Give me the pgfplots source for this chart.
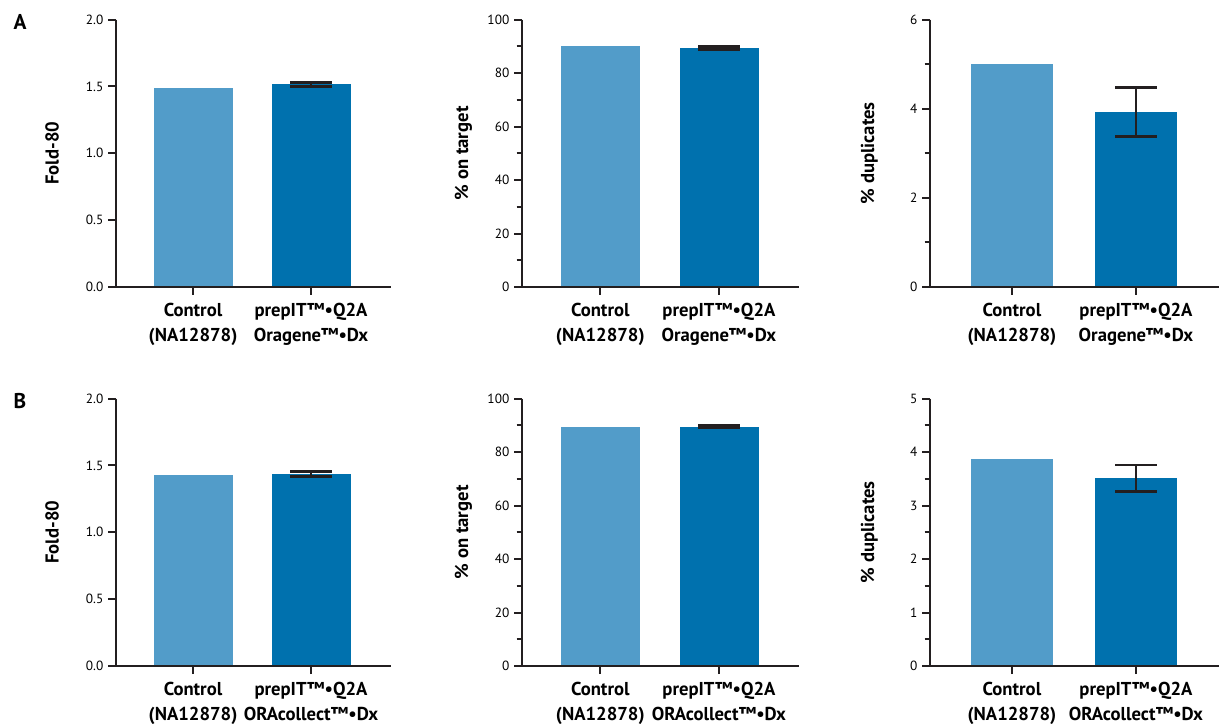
\documentclass[border=0pt]{standalone}
\usepackage{fontspec}
\setmainfont{PT Sans}
\usepackage{pgfplots}
\pgfplotsset{compat=1.18}

\definecolor{axc}{HTML}{231F20}
\definecolor{ctrl}{HTML}{529CC9}
\definecolor{prep}{HTML}{0071AE}

% bold two-line category label
\newcommand\xl[2]{{\bfseries\fontsize{14}{18.5}\selectfont\begin{tabular}{@{}c@{}}#1\\#2\end{tabular}}}

% axis frame: left and bottom lines, category ticks, major y ticks (given as fractions of the height)
\newcommand\axframe[1]{%
  \draw[axc, line width=1.8pt] (rel axis cs:0,1) -- (rel axis cs:0,0) -- (rel axis cs:1,0);
  \draw[axc, line width=1.5pt] (axis cs:0,0) -- ++(0pt,-6pt) (axis cs:1,0) -- ++(0pt,-6pt);
  \pgfplotsinvokeforeach{#1}{\draw[axc, line width=1.5pt] (rel axis cs:0,##1) -- ++(-6pt,0pt);}
}

\pgfplotsset{
  panel/.style={
    scale only axis, anchor=south west, height=200.6pt,
    axis lines=left,
    axis line style={-, draw=axc, line width=1.8pt},
    every tick/.append style={draw=axc, line width=1.5pt},
    tick align=outside,
    major tick length=6pt, minor tick length=4pt,
    xtick={0,1}, ymin=0, clip=false,
    ylabel style={font=\bfseries\fontsize{14}{17}\selectfont,
      at={(axis description cs:0,0.5)}, anchor=center},
    /pgf/number format/assume math mode=true,
  },
  labA/.style={xticklabels={{\xl{Control}{(NA12878)}}, {\xl{prepIT™•Q2A}{Oragene™•Dx}}}},
  labB/.style={xticklabels={{\xl{Control}{(NA12878)}}, {\xl{prepIT™•Q2A}{ORAcollect™•Dx}}}},
  cbar/.style={ybar, bar width=#1, bar shift=0pt, fill=ctrl, draw=ctrl, line width=0.1pt},
  pbar/.style={ybar, bar width=#1, bar shift=0pt, fill=prep, draw=prep, line width=0.1pt,
    /pgfplots/error bars/y dir=both, /pgfplots/error bars/y explicit,
    /pgfplots/error bars/error bar style={draw=axc, line width=2pt},
    /pgfplots/error bars/error mark options={rotate=90, draw=axc, line width=2pt, mark size=15.5pt}},
}

\begin{document}
\begin{tikzpicture}
\useasboundingbox (0,0) rectangle (915pt,543pt);

\node[font=\bfseries\fontsize{16}{18}\selectfont] at (15pt,526.5pt) {A};
\node[font=\bfseries\fontsize{16}{18}\selectfont] at (15pt,242.25pt) {B};

% Row A
\begin{axis}[panel, labA, at={(87pt,327.75pt)}, width=206.25pt, xmin=-0.653, xmax=1.678,
    ymax=2, ytick={0,0.5,...,2},
    yticklabel style={/pgf/number format/.cd, fixed, fixed zerofill, precision=1},
    ylabel={Fold-80}, ylabel style={yshift=48pt}]
\addplot[cbar=58.5pt] coordinates {(0,1.485)};
\addplot[pbar=58.5pt] coordinates {(1,1.515) +- (0,0.015)};
\axframe{0,0.25,0.5,0.75,1}
\end{axis}

\begin{axis}[panel, labA, at={(391.5pt,327.75pt)}, width=207.75pt, xmin=-0.66, xmax=1.675,
    ymax=100, ytick={0,20,...,100}, minor y tick num=1,
    ylabel={\% on target}, ylabel style={yshift=44pt}]
\addplot[cbar=58.5pt] coordinates {(0,89.9)};
\addplot[pbar=58.5pt] coordinates {(1,89.4) +- (0,0.5)};
\axframe{0,0.2,0.4,0.6,0.8,1}
\end{axis}

\begin{axis}[panel, labA, at={(697.5pt,327.75pt)}, width=216.75pt, xmin=-0.661, xmax=1.67,
    ymax=6, ytick={0,2,4,6}, minor y tick num=1,
    ylabel={\% duplicates}, ylabel style={yshift=45.5pt}]
\addplot[cbar=60.75pt] coordinates {(0,5.0)};
\addplot[pbar=60.75pt] coordinates {(1,3.92) +- (0,0.55)};
\axframe{0,0.33333,0.66667,1}
\end{axis}

% Row B
\begin{axis}[panel, labB, at={(87pt,43.5pt)}, width=206.25pt, xmin=-0.653, xmax=1.678,
    ymax=2, ytick={0,0.5,...,2},
    yticklabel style={/pgf/number format/.cd, fixed, fixed zerofill, precision=1},
    ylabel={Fold-80}, ylabel style={yshift=48pt}]
\addplot[cbar=58.5pt] coordinates {(0,1.427)};
\addplot[pbar=58.5pt] coordinates {(1,1.435) +- (0,0.02)};
\axframe{0,0.25,0.5,0.75,1}
\end{axis}

\begin{axis}[panel, labB, at={(391.5pt,43.5pt)}, width=207.75pt, xmin=-0.66, xmax=1.675,
    ymax=100, ytick={0,20,...,100}, minor y tick num=1,
    ylabel={\% on target}, ylabel style={yshift=44pt}]
\addplot[cbar=58.5pt] coordinates {(0,89.2)};
\addplot[pbar=58.5pt] coordinates {(1,89.5) +- (0,0.4)};
\axframe{0,0.2,0.4,0.6,0.8,1}
\end{axis}

\begin{axis}[panel, labB, at={(697.5pt,43.5pt)}, width=216.75pt, xmin=-0.661, xmax=1.67,
    ymax=5, ytick={0,1,...,5}, minor y tick num=1,
    ylabel={\% duplicates}, ylabel style={yshift=45.5pt}]
\addplot[cbar=60.75pt] coordinates {(0,3.87)};
\addplot[pbar=60.75pt] coordinates {(1,3.51) +- (0,0.25)};
\axframe{0,0.2,0.4,0.6,0.8,1}
\end{axis}

\end{tikzpicture}
\end{document}
